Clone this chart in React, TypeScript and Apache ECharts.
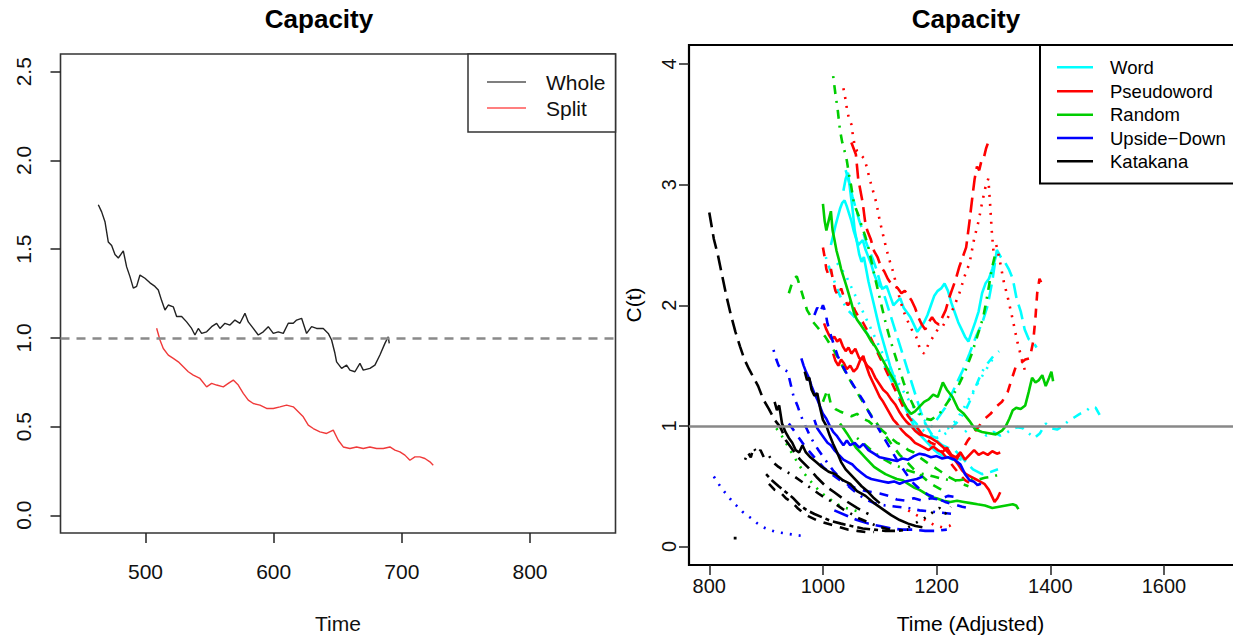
import React, { useEffect, useRef } from "react";
import * as echarts from "echarts";

// ---------- Left panel data ----------
const leftXTicks = [500, 600, 700, 800];
const leftYTicks = [0, 0.5, 1, 1.5, 2, 2.5];
const wholeData = [[463.2,1.75],[465.8,1.71],[468.4,1.655],[471,1.54],[473.6,1.52],[476.2,1.47],[478.8,1.45],[482.7,1.49],[485.3,1.40],[487.9,1.345],[490.5,1.28],[493.1,1.29],[495.7,1.354],[499.6,1.336],[503.5,1.31],[507.4,1.29],[510,1.27],[512.6,1.21],[515.2,1.157],[517.8,1.185],[521.7,1.175],[524.3,1.12],[528.2,1.12],[532.1,1.09],[536,1.053],[538.6,1.016],[541.2,1.053],[543.8,1.025],[547.7,1.034],[551.6,1.063],[555.5,1.082],[558.1,1.053],[562,1.082],[565.9,1.072],[569.8,1.10],[573.7,1.082],[577.6,1.138],[580.2,1.09],[584.1,1.053],[588,1.016],[591.9,1.034],[595.8,1.063],[599.7,1.025],[603.6,1.034],[607.5,1.025],[611.4,1.082],[615.3,1.082],[617.9,1.10],[621.8,1.11],[625.7,1.025],[629.6,1.063],[633.5,1.053],[638.7,1.053],[642.6,1.025],[645.2,0.988],[647.8,0.913],[649.1,0.865],[653,0.828],[656.9,0.846],[659.5,0.818],[663.4,0.809],[667.3,0.856],[669.9,0.818],[675.1,0.828],[679,0.846],[682.9,0.903],[686.8,0.969],[689.4,1.006],[690.2,0.969]];
const splitData = [[508.7,1.054],[511.3,0.988],[513.9,0.94],[517.8,0.903],[521.7,0.884],[525.6,0.865],[529.5,0.837],[533.4,0.809],[537.3,0.79],[542.5,0.771],[547.7,0.724],[551.6,0.743],[555.5,0.734],[560.7,0.724],[564.6,0.743],[568.5,0.762],[572.4,0.734],[576.3,0.687],[580.2,0.649],[584.1,0.63],[589.3,0.621],[594.5,0.602],[599.7,0.602],[604.9,0.611],[610.1,0.621],[615.3,0.611],[619.2,0.583],[623.1,0.555],[627,0.508],[630.9,0.489],[636.1,0.47],[641.3,0.461],[646.5,0.48],[650.4,0.423],[654.3,0.385],[659.5,0.376],[664.7,0.385],[669.9,0.376],[675.1,0.385],[680.3,0.376],[685.5,0.376],[690.7,0.385],[694.6,0.367],[698.5,0.357],[702.4,0.339],[706.3,0.31],[710.2,0.329],[714.1,0.329],[718,0.32],[721.9,0.301],[724.5,0.282]];
const leftLegend = ["Whole", "Split"];

// ---------- Right panel data ----------
const rightXTicks = [800, 1000, 1200, 1400, 1600];
const rightYTicks = [0, 1, 2, 3, 4];
const rightLegend = ["Word", "Pseudoword", "Random", "Upside\u2212Down", "Katakana"];

// Word (cyan)
const word1 = [[1014,2.50],[1018,2.58],[1022,2.66],[1026,2.73],[1030,2.80],[1034,2.85],[1038,2.87],[1042,2.82],[1046,2.76],[1050,2.70],[1054,2.62],[1058,2.56],[1062,2.50],[1066,2.52],[1070,2.54],[1075,2.46],[1080,2.40],[1085,2.34],[1090,2.26],[1095,2.20],[1100,2.16],[1106,2.14],[1112,2.16],[1118,2.08],[1124,2.00],[1130,2.03],[1136,2.06],[1142,1.98],[1148,1.94],[1154,1.90],[1160,1.84],[1166,1.78],[1172,1.82],[1178,1.86],[1184,1.92],[1190,2.00],[1196,2.08],[1202,2.12],[1208,2.14],[1214,2.18],[1220,2.12],[1226,2.02],[1232,1.94],[1238,1.86],[1244,1.80],[1250,1.74],[1256,1.70],[1262,1.78],[1268,1.86],[1274,1.95],[1280,2.10],[1286,2.18],[1292,2.22],[1298,2.30],[1304,2.40],[1308,2.44]];
const word2 = [[1036,2.95],[1040,3.05],[1044,3.10],[1048,2.95],[1052,2.80],[1056,2.62],[1060,2.52],[1064,2.42],[1068,2.36],[1072,2.40],[1076,2.30],[1080,2.20],[1085,2.10],[1090,2.00],[1095,1.90],[1100,1.80],[1106,1.70],[1112,1.60],[1118,1.50],[1124,1.42],[1130,1.34],[1136,1.26],[1142,1.18],[1148,1.12],[1154,1.06],[1160,1.00],[1166,0.96],[1172,0.92],[1180,0.88],[1188,0.84],[1196,0.80],[1204,0.77],[1212,0.75],[1220,0.74],[1228,0.72],[1236,0.73],[1244,0.72]];
const word3 = [[1040,3.12],[1046,3.02],[1052,2.90],[1058,2.80],[1064,2.70],[1070,2.62],[1076,2.52],[1082,2.45],[1088,2.38],[1094,2.30],[1100,2.20],[1108,2.08],[1116,1.96],[1124,1.84],[1132,1.72],[1140,1.60],[1148,1.48],[1156,1.36],[1164,1.24],[1172,1.12],[1180,1.02],[1190,0.94],[1200,0.88],[1210,0.84],[1220,0.82],[1232,0.80],[1248,0.72],[1264,0.64],[1280,0.60],[1296,0.62],[1308,0.64]];
const word4 = [[1005,2.40],[1012,2.30],[1020,2.20],[1028,2.10],[1036,2.02],[1044,1.96],[1052,1.92],[1060,1.88],[1068,1.84],[1076,1.78],[1084,1.72],[1092,1.65],[1100,1.58],[1108,1.50],[1116,1.42],[1124,1.34],[1132,1.26],[1140,1.18],[1148,1.12],[1156,1.06],[1164,1.02],[1172,0.98],[1180,0.95],[1190,0.92],[1200,0.90],[1210,0.92],[1220,0.95],[1230,1.00],[1240,1.05],[1250,1.12],[1260,1.22],[1270,1.34],[1280,1.45],[1290,1.52],[1300,1.58],[1310,1.62]];
const word5 = [[1200,1.05],[1215,1.15],[1230,1.30],[1245,1.45],[1258,1.60],[1270,1.75],[1280,1.85],[1290,2.00],[1298,2.20],[1306,2.46],[1313,2.40],[1320,2.36],[1327,2.30],[1334,2.22],[1341,2.05],[1348,1.95],[1355,1.80],[1362,1.72],[1369,1.70],[1376,1.65]];
const word6 = [[1250,0.95],[1262,1.00],[1275,0.96],[1288,0.92],[1300,0.95],[1312,0.92],[1322,0.94],[1332,0.97],[1342,0.99],[1352,0.98],[1362,0.94],[1372,0.90],[1382,0.94],[1392,1.02],[1402,0.98],[1412,0.97],[1422,1.00],[1432,1.04],[1442,1.07],[1452,1.10],[1462,1.12],[1472,1.16],[1480,1.15],[1487,1.09]];
const word7 = [[1025,2.35],[1040,2.25],[1055,2.10],[1070,1.95],[1085,1.80],[1100,1.65],[1115,1.50],[1130,1.38],[1145,1.26],[1160,1.15],[1175,1.06],[1190,1.00],[1205,0.96],[1220,0.98],[1235,1.05],[1248,1.15],[1260,1.25],[1272,1.35],[1285,1.45],[1298,1.55]];

// Pseudoword (red)
const pseudo1 = [[1036,3.80],[1040,3.70],[1043,3.60],[1046,3.55],[1050,3.50],[1053,3.40],[1056,3.32],[1060,3.28],[1066,3.25],[1072,3.22],[1077,3.15],[1082,3.05],[1088,2.95],[1094,2.85],[1100,2.70],[1106,2.58],[1112,2.46],[1118,2.36],[1124,2.27],[1130,2.15],[1136,2.04],[1142,1.95],[1148,1.88],[1156,1.80],[1164,1.74],[1172,1.62],[1178,1.60],[1186,1.68],[1194,1.74],[1202,1.80],[1210,1.82],[1220,1.90],[1230,1.98],[1240,2.10],[1250,2.25],[1258,2.35],[1266,2.55],[1274,2.70],[1280,2.85],[1286,2.98],[1291,3.05],[1294,2.85],[1297,2.62],[1300,2.45],[1305,2.50],[1310,2.40],[1318,2.20],[1326,2.05],[1334,1.88],[1342,1.70],[1350,1.55],[1356,1.45]];
const pseudo2 = [[1050,3.35],[1054,3.30],[1058,3.25],[1062,3.05],[1066,2.95],[1070,2.85],[1074,2.70],[1078,2.62],[1084,2.55],[1090,2.45],[1096,2.40],[1102,2.32],[1108,2.28],[1114,2.22],[1120,2.18],[1126,2.16],[1132,2.14],[1138,2.10],[1144,2.12],[1150,2.08],[1156,2.04],[1162,1.98],[1168,1.90],[1174,1.84],[1180,1.80],[1186,1.86],[1192,1.90],[1198,1.86],[1204,1.84],[1210,1.90],[1216,1.96],[1222,2.06],[1228,2.14],[1234,2.22],[1240,2.32],[1246,2.40],[1252,2.48],[1258,2.70],[1263,2.90],[1267,3.05],[1271,3.15],[1275,3.12],[1279,3.20],[1283,3.22],[1287,3.30],[1290,3.34]];
const pseudo3 = [[1002,1.85],[1006,1.80],[1010,1.76],[1015,1.72],[1020,1.74],[1025,1.70],[1030,1.72],[1035,1.66],[1040,1.62],[1045,1.65],[1050,1.60],[1057,1.64],[1064,1.56],[1071,1.55],[1078,1.50],[1085,1.47],[1092,1.40],[1099,1.35],[1106,1.30],[1113,1.27],[1120,1.22],[1127,1.18],[1134,1.12],[1141,1.07],[1148,1.03],[1155,1.00],[1162,0.96],[1170,0.93],[1180,0.92],[1190,0.90],[1200,0.87],[1210,0.83],[1220,0.78],[1230,0.73],[1238,0.68],[1245,0.63],[1252,0.60],[1260,0.58],[1268,0.56],[1276,0.54],[1284,0.52],[1292,0.47],[1297,0.42],[1302,0.37],[1307,0.40],[1312,0.45]];
const pseudo4 = [[1018,1.60],[1022,1.54],[1027,1.50],[1032,1.55],[1037,1.52],[1042,1.47],[1048,1.50],[1054,1.45],[1060,1.48],[1066,1.55],[1071,1.58],[1076,1.50],[1082,1.42],[1088,1.36],[1094,1.30],[1100,1.24],[1106,1.20],[1112,1.15],[1118,1.10],[1124,1.05],[1130,1.02],[1138,0.97],[1146,0.93],[1154,0.90],[1162,0.86],[1170,0.84],[1178,0.82],[1186,0.80],[1194,0.83],[1202,0.80],[1210,0.78],[1218,0.82],[1226,0.76],[1234,0.74],[1242,0.78],[1250,0.72],[1258,0.76],[1266,0.80],[1274,0.76],[1282,0.78],[1290,0.76],[1298,0.79],[1306,0.77],[1312,0.78]];
const pseudo5 = [[1000,2.48],[1003,2.40],[1006,2.30],[1010,2.25],[1014,2.30],[1018,2.20],[1022,2.12],[1027,2.08],[1032,2.14],[1038,2.05],[1044,2.00],[1050,2.04],[1056,1.96],[1063,1.90],[1070,1.86],[1077,1.80],[1085,1.72],[1093,1.64],[1101,1.56],[1109,1.48],[1117,1.40],[1125,1.32],[1133,1.24],[1141,1.16],[1150,1.08],[1160,1.02],[1170,0.96],[1180,0.90],[1190,0.86],[1200,0.84],[1210,0.78],[1220,0.72],[1230,0.66],[1240,0.60],[1250,0.55],[1260,0.52],[1270,0.50]];
const pseudo6 = [[1235,0.72],[1245,0.80],[1255,0.88],[1265,0.94],[1275,1.00],[1285,1.06],[1295,1.10],[1305,1.16],[1315,1.20],[1325,1.28],[1333,1.40],[1340,1.50],[1348,1.52],[1356,1.55],[1364,1.56],[1370,1.70],[1374,1.90],[1377,2.10],[1381,2.22],[1385,2.18]];
const pseudo7 = [[1150,0.30],[1165,0.26],[1180,0.22],[1195,0.18],[1210,0.16],[1222,0.17],[1235,0.21]];

// Random (green)
const random1 = [[1018,3.90],[1022,3.75],[1026,3.62],[1030,3.45],[1034,3.35],[1038,3.28],[1042,3.20],[1046,3.08],[1050,2.98],[1054,2.86],[1058,2.80],[1063,2.74],[1068,2.66],[1074,2.58],[1080,2.48],[1086,2.35],[1092,2.22],[1098,2.10],[1104,1.98],[1110,1.86],[1118,1.72],[1126,1.60],[1134,1.48],[1142,1.36],[1150,1.26],[1160,1.16],[1170,1.10],[1180,1.06],[1190,1.05],[1205,1.10],[1220,1.20],[1235,1.30],[1250,1.45],[1262,1.60],[1272,1.75],[1282,1.90],[1290,2.10],[1297,2.30],[1303,2.42]];
const random2 = [[1000,2.84],[1003,2.70],[1006,2.62],[1010,2.70],[1014,2.78],[1017,2.62],[1020,2.55],[1024,2.45],[1028,2.38],[1032,2.30],[1036,2.24],[1040,2.18],[1045,2.10],[1050,2.02],[1055,1.93],[1060,1.88],[1066,1.84],[1072,1.80],[1078,1.76],[1085,1.70],[1092,1.66],[1099,1.60],[1106,1.54],[1113,1.48],[1120,1.42],[1127,1.36],[1134,1.28],[1141,1.20],[1148,1.14],[1155,1.10],[1162,1.12],[1170,1.16],[1178,1.20],[1186,1.22],[1194,1.26],[1202,1.24],[1211,1.36],[1218,1.30],[1228,1.24],[1238,1.14],[1248,1.10],[1258,1.04],[1268,0.97],[1280,0.95],[1292,0.94],[1304,0.93],[1315,0.96],[1322,1.00],[1328,1.06],[1334,1.13],[1340,1.15],[1348,1.14],[1356,1.17],[1362,1.28],[1368,1.40],[1374,1.36],[1380,1.38],[1386,1.42],[1392,1.33],[1398,1.40],[1402,1.45],[1405,1.37]];
const random3 = [[940,2.10],[944,2.16],[949,2.22],[954,2.24],[958,2.18],[962,2.12],[967,2.04],[972,1.96],[977,1.92],[983,1.86],[990,1.82],[997,1.78],[1004,1.74],[1012,1.68],[1020,1.62],[1028,1.55],[1036,1.48],[1045,1.40],[1055,1.32],[1065,1.24],[1075,1.16],[1086,1.08],[1098,1.00],[1110,0.92],[1122,0.84],[1135,0.76],[1148,0.70],[1160,0.64],[1175,0.58],[1190,0.52],[1205,0.48],[1220,0.46]];
const random4 = [[1030,1.02],[1036,0.98],[1042,0.94],[1050,0.88],[1058,0.82],[1066,0.78],[1074,0.74],[1082,0.70],[1090,0.66],[1100,0.63],[1110,0.60],[1120,0.58],[1130,0.56],[1140,0.55],[1150,0.52],[1160,0.49],[1170,0.47],[1180,0.44],[1190,0.41],[1200,0.40],[1212,0.38],[1224,0.37],[1236,0.38],[1248,0.37],[1260,0.36],[1272,0.35],[1285,0.34],[1298,0.32],[1310,0.33],[1322,0.34],[1334,0.35],[1340,0.34],[1344,0.31]];
const random5 = [[1000,1.20],[1008,1.30],[1014,1.18],[1022,1.14],[1030,1.12],[1040,1.10],[1050,1.08],[1060,1.10],[1070,1.06],[1080,1.04],[1090,1.00],[1100,0.98],[1110,0.94],[1120,0.90],[1130,0.86],[1140,0.84],[1150,0.80],[1160,0.78],[1170,0.74],[1182,0.70],[1195,0.66],[1208,0.62],[1220,0.58],[1232,0.55],[1244,0.52],[1256,0.50]];
const random6 = [[1060,0.90],[1075,0.84],[1090,0.78],[1105,0.73],[1120,0.69],[1135,0.66],[1150,0.63],[1165,0.61],[1180,0.60],[1195,0.58],[1210,0.56],[1225,0.55],[1240,0.55],[1255,0.56],[1270,0.55],[1285,0.57],[1298,0.58],[1312,0.60]];
const random7 = [[918,0.98],[930,0.90],[942,0.80],[955,0.70],[968,0.60],[982,0.52],[996,0.45],[1010,0.40],[1025,0.35],[1040,0.32],[1055,0.30],[1070,0.28]];

// Upside-Down (blue)
const upside1 = [[808,0.58],[815,0.53],[822,0.48],[829,0.44],[836,0.40],[843,0.36],[850,0.33],[858,0.29],[866,0.26],[875,0.23],[885,0.19],[895,0.16],[905,0.14],[918,0.12],[932,0.11],[946,0.10],[961,0.09]];
const upside2 = [[913,1.63],[918,1.55],[922,1.50],[930,1.47],[938,1.45],[943,1.35],[948,1.25],[955,1.17],[960,1.10],[966,1.03],[972,0.97],[978,0.91],[984,0.86],[992,0.80],[1001,0.74],[1010,0.68],[1018,0.63],[1030,0.57],[1045,0.50],[1060,0.44],[1075,0.39],[1090,0.36],[1110,0.34],[1130,0.33],[1150,0.32],[1170,0.30],[1190,0.29],[1210,0.28],[1230,0.27]];
const upside3 = [[962,1.56],[966,1.50],[970,1.45],[975,1.40],[980,1.33],[985,1.27],[990,1.22],[995,1.16],[1000,1.10],[1006,1.06],[1012,1.00],[1018,0.95],[1024,0.92],[1030,0.88],[1036,0.84],[1042,0.88],[1048,0.84],[1056,0.86],[1064,0.82],[1071,0.85],[1080,0.80],[1090,0.77],[1100,0.74],[1110,0.73],[1120,0.72],[1130,0.71],[1140,0.73],[1150,0.72],[1160,0.75],[1170,0.77],[1180,0.76],[1190,0.74],[1200,0.75],[1210,0.73],[1220,0.74],[1232,0.72],[1242,0.68],[1250,0.60],[1258,0.55],[1265,0.54],[1272,0.51],[1278,0.52]];
const upside4 = [[985,1.05],[990,0.98],[996,0.94],[1002,0.90],[1008,0.86],[1014,0.84],[1020,0.80],[1028,0.76],[1036,0.72],[1044,0.70],[1052,0.68],[1060,0.64],[1068,0.61],[1076,0.58],[1085,0.56],[1095,0.55],[1105,0.54],[1115,0.53],[1125,0.54],[1135,0.52],[1145,0.54],[1155,0.55],[1165,0.56],[1176,0.58]];
const upside5 = [[985,1.92],[990,1.98],[995,1.94],[1000,2.00],[1004,1.95],[1008,1.85],[1014,1.75],[1020,1.66],[1026,1.58],[1032,1.52],[1040,1.45],[1048,1.38],[1056,1.32],[1064,1.26],[1072,1.20],[1080,1.12],[1090,1.04],[1100,0.96],[1110,0.88],[1120,0.80],[1130,0.72],[1140,0.65],[1150,0.58],[1160,0.52],[1172,0.47],[1185,0.43],[1200,0.40],[1215,0.37],[1230,0.35],[1245,0.33],[1255,0.32]];
const upside6 = [[940,1.02],[955,0.92],[970,0.82],[985,0.74],[1000,0.66],[1015,0.60],[1030,0.55],[1045,0.51],[1060,0.48],[1075,0.46],[1090,0.45],[1100,0.44],[1115,0.42],[1130,0.39],[1145,0.38],[1160,0.40],[1175,0.38],[1190,0.40],[1205,0.39],[1220,0.42],[1235,0.41]];
const upside7 = [[1020,0.30],[1040,0.26],[1060,0.22],[1080,0.19],[1100,0.17],[1120,0.15],[1140,0.14],[1160,0.14],[1180,0.13],[1200,0.13],[1218,0.14]];

// Katakana (black)
const kata1 = [[915,1.20],[919,1.13],[923,1.17],[928,1.02],[934,0.95],[940,0.90],[946,0.86],[952,0.80],[958,0.78],[964,0.84],[970,0.78],[978,0.74],[988,0.70],[998,0.66],[1010,0.62],[1022,0.60],[1035,0.55],[1048,0.52],[1060,0.46],[1075,0.42],[1090,0.36],[1105,0.31],[1120,0.26],[1135,0.22],[1150,0.19],[1163,0.17],[1175,0.16]];
const kata2 = [[968,1.45],[972,1.38],[976,1.40],[980,1.30],[985,1.25],[990,1.27],[995,1.15],[1000,1.05],[1006,1.00],[1012,0.92],[1018,0.85],[1025,0.78],[1032,0.70],[1040,0.64],[1048,0.60],[1058,0.55],[1068,0.50],[1078,0.46],[1090,0.40],[1100,0.36]];
const kata3 = [[800,2.77],[808,2.55],[815,2.42],[822,2.26],[830,2.08],[838,1.92],[846,1.78],[854,1.66],[862,1.55],[870,1.47],[878,1.40],[886,1.33],[895,1.22],[905,1.14],[915,1.05],[925,0.99],[935,0.88],[947,0.80],[960,0.72],[975,0.65],[990,0.57],[1005,0.50],[1020,0.45],[1040,0.38],[1060,0.32],[1080,0.27]];
const kata4 = [[863,0.72],[868,0.78],[873,0.74],[878,0.82],[884,0.77],[890,0.80],[896,0.74],[904,0.76],[912,0.70],[922,0.66],[932,0.63],[944,0.60],[956,0.56],[968,0.52],[980,0.48],[992,0.44],[1005,0.40],[1020,0.36],[1035,0.31],[1050,0.27],[1065,0.23],[1080,0.20],[1095,0.17],[1110,0.15],[1125,0.13]];
const kata5 = [[905,0.52],[915,0.47],[925,0.45],[935,0.40],[945,0.37],[955,0.32],[965,0.28],[975,0.25],[988,0.22],[1000,0.20],[1015,0.18],[1030,0.16],[1045,0.14],[1060,0.13],[1075,0.12],[1090,0.12]];
const kata6 = [[900,0.60],[910,0.55],[922,0.50],[935,0.45],[948,0.40],[960,0.34],[972,0.30],[985,0.27],[1000,0.24],[1015,0.21],[1032,0.19],[1050,0.17],[1070,0.15],[1090,0.14],[1110,0.13],[1130,0.13],[1150,0.14]];
const kata7 = [[1150,0.16],[1165,0.20],[1180,0.24],[1195,0.29],[1205,0.32],[1215,0.27],[1225,0.33]];
const kata8 = [[843,0.07],[848,0.07]];

// ---------- styles ----------
const FONT = "Liberation Sans";
const conditionColors = ["#00FFFF", "#FF0000", "#00CD00", "#0000FF", "#000000"];
const DASH: Record<string, any> = {
  solid: "solid",
  dashed: [9, 8],
  dotted: [2, 7],
  dotdash: [2, 7, 9, 7],
  longdash: [15, 7],
  twodash: [4, 4, 13, 4],
};

const rightSpecs: [number, number[][], string][] = [
  [0, word1, "solid"], [0, word2, "solid"], [0, word3, "longdash"], [0, word4, "dotdash"], [0, word5, "longdash"], [0, word6, "dotdash"], [0, word7, "dotted"],
  [1, pseudo1, "dotted"], [1, pseudo2, "longdash"], [1, pseudo3, "solid"], [1, pseudo4, "solid"], [1, pseudo5, "dashed"], [1, pseudo6, "dashed"], [1, pseudo7, "dotted"],
  [2, random1, "dotdash"], [2, random2, "solid"], [2, random3, "dashed"], [2, random4, "solid"], [2, random5, "dashed"], [2, random6, "dotdash"], [2, random7, "dotted"],
  [3, upside1, "dotted"], [3, upside2, "dotdash"], [3, upside3, "solid"], [3, upside4, "solid"], [3, upside5, "dashed"], [3, upside6, "dashed"], [3, upside7, "longdash"],
  [4, kata1, "solid"], [4, kata2, "solid"], [4, kata3, "longdash"], [4, kata4, "dotdash"], [4, kata5, "dashed"], [4, kata6, "twodash"], [4, kata7, "dotted"], [4, kata8, "solid"],
];

export default function App() {
  const ref = useRef<HTMLDivElement>(null);
  useEffect(() => {
    if (!ref.current) return;
    const chart = echarts.init(ref.current, undefined, { renderer: "svg" });

    const L = { left: 60.5, top: 54, width: 555, height: 479 };
    const R = { left: 689, top: 45, width: 563, height: 520 };

    const series: any[] = [
      {
        type: "line", name: "Whole", xAxisIndex: 0, yAxisIndex: 0, data: wholeData,
        showSymbol: false, symbol: "none", silent: true,
        lineStyle: { color: "#222", width: 1.4 },
        markLine: {
          silent: true, symbol: ["none", "none"], label: { show: false },
          lineStyle: { color: "#8a8a8a", width: 2.5, type: [9, 7] },
          data: [{ yAxis: 1 }],
        },
      },
      {
        type: "line", name: "Split", xAxisIndex: 0, yAxisIndex: 0, data: splitData,
        showSymbol: false, symbol: "none", silent: true,
        lineStyle: { color: "#f03a3a", width: 1.4 },
      },
    ];
    rightSpecs.forEach(([ci, d, lty], i) => {
      series.push({
        type: "line", name: rightLegend[ci] + "_" + i, xAxisIndex: 1, yAxisIndex: 1, data: d,
        showSymbol: false, symbol: "none", silent: true, z: 3,
        lineStyle: { color: conditionColors[ci], width: 2.6, type: DASH[lty] },
        ...(i === 0
          ? {
              markLine: {
                silent: true, symbol: ["none", "none"], label: { show: false },
                lineStyle: { color: "#888", width: 2.5, type: "solid" },
                data: [{ yAxis: 1 }], z: 5,
              },
            }
          : {}),
      });
    });

    const axisBase = (vals: number[], fs: number, margin: number, extra: any = {}) => ({
      type: "value",
      splitLine: { show: false },
      axisLine: { show: false, onZero: false },
      axisTick: { show: true, inside: false, length: 10, customValues: vals, lineStyle: { color: "#222", width: 1.5 } },
      axisLabel: { customValues: vals, fontSize: fs, fontFamily: FONT, color: "#111", margin, formatter: (v: number) => String(v), ...extra },
    });

    const graphic: any[] = [];
    // Left legend
    graphic.push({ type: "rect", shape: { x: 468, y: 54, width: 147.5, height: 78 }, style: { fill: "#fff", stroke: "#333", lineWidth: 1.5 }, z: 10 });
    const leftLegColors = ["#555", "#f55"];
    leftLegend.forEach((t, i) => {
      const y = 82 + i * 26;
      graphic.push({ type: "line", shape: { x1: 487, y1: y, x2: 526, y2: y }, style: { stroke: leftLegColors[i], lineWidth: 1.6 }, z: 11 });
      graphic.push({ type: "text", x: 546, y, style: { text: t, fontSize: 21, fontFamily: FONT, fill: "#111", verticalAlign: "middle", align: "left" }, z: 11 });
    });
    // Right legend
    graphic.push({ type: "rect", shape: { x: 1040, y: 45, width: 240, height: 138.5 }, style: { fill: "#fff", stroke: "#000", lineWidth: 2 }, z: 10 });
    const rowY = [67.3, 91.2, 114.7, 138, 161.3];
    rightLegend.forEach((t, i) => {
      graphic.push({ type: "line", shape: { x1: 1057, y1: rowY[i], x2: 1093, y2: rowY[i] }, style: { stroke: conditionColors[i], lineWidth: 2.6 }, z: 11 });
      graphic.push({ type: "text", x: 1110, y: rowY[i], style: { text: t, fontSize: 18.5, fontFamily: FONT, fill: "#000", verticalAlign: "middle", align: "left" }, z: 11 });
    });

    chart.setOption({
      animation: false,
      backgroundColor: "#fff",
      title: [
        { text: "Capacity", left: 314, top: 1, textAlign: "center", textStyle: { fontSize: 26, fontWeight: "bold", fontFamily: FONT, color: "#000" } },
        { text: "Capacity", left: 961, top: 1, textAlign: "center", textStyle: { fontSize: 26, fontWeight: "bold", fontFamily: FONT, color: "#000" } },
      ],
      grid: [
        { ...L, show: true, borderColor: "#333", borderWidth: 1.6, backgroundColor: "transparent" },
        { ...R, show: true, borderColor: "#000", borderWidth: 2.2, backgroundColor: "transparent" },
      ],
      xAxis: [
        {
          ...axisBase(leftXTicks, 21, 28), gridIndex: 0, min: 433.7, max: 866.7,
          name: "Time", nameLocation: "middle", nameGap: 80,
          nameTextStyle: { fontSize: 21, fontFamily: FONT, color: "#111" },
        },
        {
          ...axisBase(rightXTicks, 20, 11), gridIndex: 1, min: 764.3, max: 1755,
          name: "Time (Adjusted)", nameLocation: "middle", nameGap: 48,
          nameTextStyle: { fontSize: 21, fontFamily: FONT, color: "#000" },
        },
      ],
      yAxis: [
        {
          ...axisBase(leftYTicks, 21, 27, { rotate: 90, formatter: (v: number) => v.toFixed(1) }),
          gridIndex: 0, min: -0.1, max: 2.6,
        },
        {
          ...axisBase(rightYTicks, 20, 10, { rotate: 90 }), gridIndex: 1, min: -0.153, max: 4.158,
          name: "C(t)", nameLocation: "middle", nameGap: 45, nameRotate: 90,
          nameTextStyle: { fontSize: 21, fontFamily: FONT, color: "#000" },
        },
      ],
      series,
      graphic,
    });
    return () => chart.dispose();
  }, []);

  return (
    <div style={{ position: "absolute", left: 0, top: 0, width: 1233, height: 640, overflow: "hidden", background: "#fff" }}>
      <div ref={ref} style={{ width: 1260, height: 640 }} />
    </div>
  );
}
